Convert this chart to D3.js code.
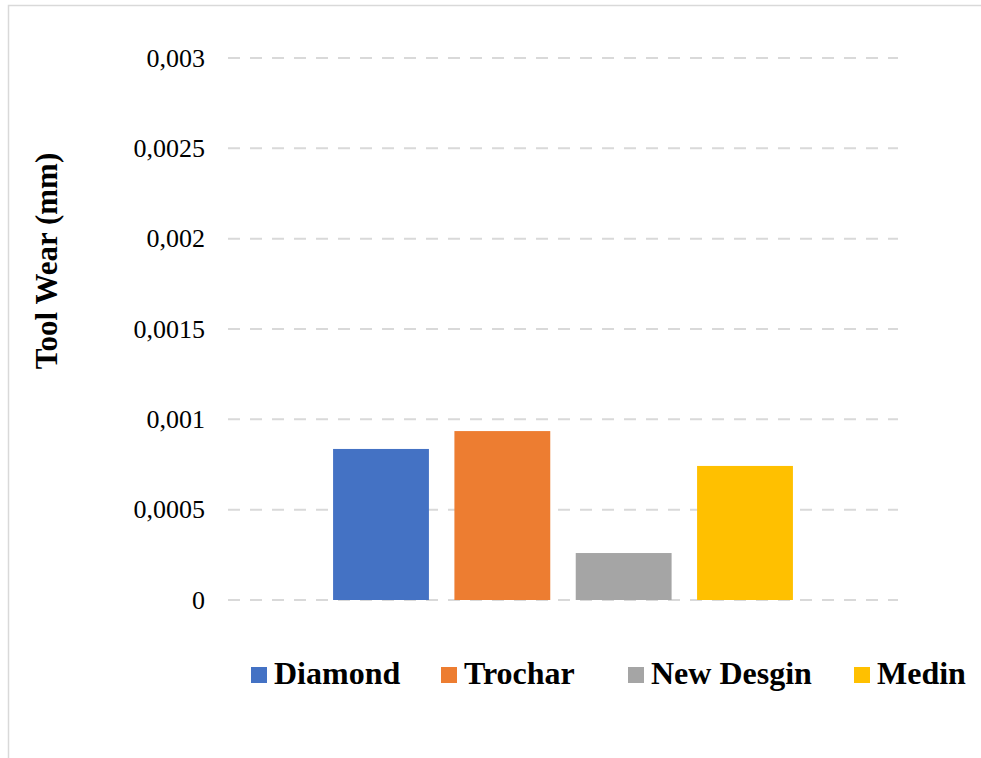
<!DOCTYPE html>
<html>
<head>
<meta charset="utf-8">
<script src="https://cdn.jsdelivr.net/npm/d3@7"></script>
<style>
  html, body { margin: 0; padding: 0; background: #fff; }
  svg { display: block; }
</style>
</head>
<body>
<div id="chart"></div>
<script>
// ---- data ----
const seriesNames = ["Diamond", "Trochar", "New Desgin", "Medin"];
const seriesValues = [0.000836, 0.000935, 0.00026, 0.000742];
const seriesColors = ["#4472C4", "#ED7D31", "#A5A5A5", "#FFC000"];
const tickValues = [0, 0.0005, 0.001, 0.0015, 0.002, 0.0025, 0.003];
const tickLabels = ["0", "0,0005", "0,001", "0,0015", "0,002", "0,0025", "0,003"];
const yTitle = "Tool Wear (mm)";

// ---- layout ----
const W = 981, H = 758;
const plot = { left: 228, right: 898, top: 58, bottom: 600 };
const legendX = [251, 441, 628, 854];
const font = "'Liberation Serif', 'Times New Roman', serif";

const svg = d3.select("#chart").append("svg")
  .attr("width", W).attr("height", H);

// outer border (Excel chart area)
svg.append("rect")
  .attr("x", 8.5).attr("y", 5.5)
  .attr("width", W + 20).attr("height", H + 20)
  .attr("fill", "none").attr("stroke", "#d9d9d9").attr("stroke-width", 1.5);

const y = d3.scaleLinear().domain([0, 0.003]).range([plot.bottom, plot.top]);
const x = d3.scaleBand().domain(seriesNames)
  .range([plot.left, plot.right])
  .paddingInner(0.21).paddingOuter(0.866);

// gridlines
svg.append("g").selectAll("line").data(tickValues).join("line")
  .attr("x1", plot.left).attr("x2", plot.right)
  .attr("y1", d => y(d)).attr("y2", d => y(d))
  .attr("stroke", "#d9d9d9").attr("stroke-width", 2)
  .attr("stroke-dasharray", "12,10");

// y axis labels
const yAxis = d3.axisLeft(y).tickValues(tickValues)
  .tickFormat((d, i) => tickLabels[i]).tickSize(0).tickPadding(23);
const ga = svg.append("g").attr("transform", `translate(${plot.left},0)`).call(yAxis);
ga.select(".domain").remove();
ga.selectAll("text")
  .attr("font-family", font).attr("font-size", 26).attr("fill", "#000");

// bars
svg.append("g").selectAll("rect").data(seriesValues).join("rect")
  .attr("x", (d, i) => x(seriesNames[i]))
  .attr("width", x.bandwidth())
  .attr("y", d => y(d))
  .attr("height", d => y(0) - y(d))
  .attr("fill", (d, i) => seriesColors[i]);

// y title
svg.append("text")
  .attr("transform", `translate(57,261) rotate(-90)`)
  .attr("text-anchor", "middle")
  .attr("font-family", font).attr("font-size", 31).attr("font-weight", "bold")
  .attr("fill", "#000")
  .text(yTitle);

// legend
const lg = svg.append("g");
seriesNames.forEach((name, i) => {
  const lx = legendX[i];
  lg.append("rect").attr("x", lx).attr("y", 667).attr("width", 16).attr("height", 16)
    .attr("fill", seriesColors[i]);
  lg.append("text").attr("x", lx + 23).attr("y", 684)
    .attr("font-family", font).attr("font-size", 32).attr("font-weight", "bold")
    .attr("fill", "#000").text(name);
});
</script>
</body>
</html>
